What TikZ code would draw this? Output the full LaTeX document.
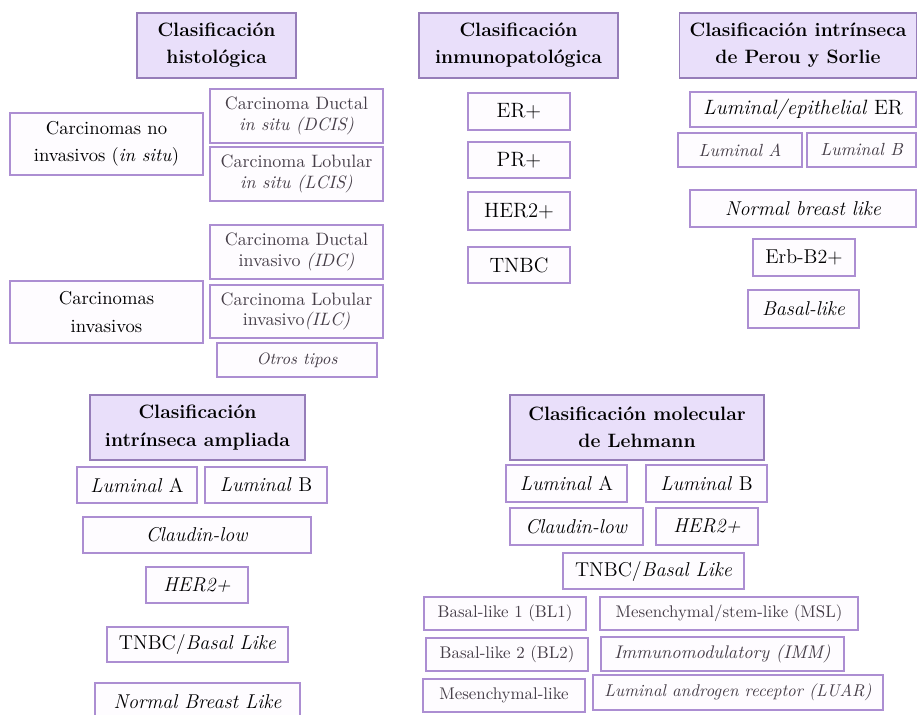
\documentclass[tikz,border=0pt]{standalone}
\usepackage{fontspec}
\usepackage{tikz}
\definecolor{headfill}{RGB}{233,223,250}
\definecolor{headline}{RGB}{150,125,185}
\definecolor{entryline}{RGB}{172,142,210}
\definecolor{entryfill}{RGB}{254,252,255}
\definecolor{softtext}{RGB}{70,62,72}
\tikzstyle{heading}=[draw=headline,fill=headfill,line width=0.9pt,align=center,inner sep=1pt,font=\fontsize{11}{15.5}\selectfont\bfseries]
\tikzstyle{entry}=[draw=entryline,fill=entryfill,line width=0.8pt,align=center,inner sep=1pt,font=\fontsize{11.4}{15}\selectfont]
\tikzstyle{subentry}=[entry,text=softtext,font=\fontsize{9.6}{11.4}\selectfont]
\tikzstyle{carcinoma}=[subentry,font=\fontsize{10.2}{11.6}\selectfont]
\tikzset{sz/.style 2 args={minimum width=#1*0.02cm,minimum height=#2*0.02cm}}

\begin{document}
\begin{tikzpicture}[x=0.02cm,y=-0.02cm]
    \clip (0,0) rectangle (918,715);
    % headings
    \node[heading,sz={159}{65}] (histo) at (216.5,45.5) {Clasificación\\histológica};
    \node[heading,sz={199}{65}] (inmuno) at (518.5,45.5) {Clasificación\\inmunopatológica};
    \node[heading,sz={237}{65}] (perou) at (798,45.5) {Clasificación intrínseca\\de Perou y Sorlie};
    \node[heading,sz={215}{65}] (ampliada) at (197.5,427.5) {Clasificación\\intrínseca ampliada};
    \node[heading,sz={254}{65}] (lehmann) at (637,427.5) {Clasificación molecular\\de Lehmann};

    % histologica
    \node[entry,sz={193}{62},font=\fontsize{10.6}{15.5}\selectfont] (noinv) at (106.5,144) {Carcinomas no\\invasivos (\textit{in situ})};
    \node[entry,sz={193}{62},font=\fontsize{10.6}{15.5}\selectfont] (inv) at (106.5,312) {Carcinomas\\invasivos};
    \node[carcinoma,sz={173}{54}] (dcis) at (296.5,116) {Carcinoma Ductal\\\textit{in situ (DCIS)}};
    \node[carcinoma,sz={173}{54}] (lcis) at (296.5,174) {Carcinoma Lobular\\\textit{in situ (LCIS)}};
    \node[carcinoma,sz={173}{54}] (idc) at (296.5,252) {Carcinoma Ductal\\invasivo \textit{(IDC)}};
    \node[carcinoma,sz={173}{53}] (ilc) at (296.5,311.5) {Carcinoma Lobular\\invasivo\textit{(ILC)}};
    \node[subentry,sz={160}{34},font=\fontsize{9.4}{11}\selectfont\itshape] (otros) at (297,360) {Otros tipos};

    % inmunopatologica
    \foreach \y/\h/\name/\txt in {111.5/37/er/ER+, 160/36/pr/PR+, 211/38/her/HER2+, 265/36/tnbc/TNBC}
        \node[entry,sz={102}{\h},font=\fontsize{11.8}{14}\selectfont] (\name) at (519,\y) {\txt};

    % Perou y Sorlie
    \node[entry,sz={226}{35},font=\fontsize{11.8}{14}\selectfont] (lumep) at (803,109.5) {\textit{Luminal/epithelial} ER};
    \node[subentry,sz={124}{34},font=\fontsize{10}{12}\selectfont\itshape] (plumA) at (740,150) {Luminal A};
    \node[subentry,sz={109}{34},font=\fontsize{10}{12}\selectfont\itshape] (plumB) at (861.5,150) {Luminal B};
    \node[entry,sz={226}{37}] (pnormal) at (803,208.5) {\textit{Normal breast like}};
    \node[entry,sz={102}{37}] (perb) at (804,257.5) {Erb-B2+};
    \node[entry,sz={111}{38}] (pbasal) at (803.5,309) {\textit{Basal-like}};

    % intrinseca ampliada
    \node[entry,sz={120}{36}] (alumA) at (137,485) {\textit{Luminal} A};
    \node[entry,sz={122}{36}] (alumB) at (266,485) {\textit{Luminal} B};
    \node[entry,sz={228}{36}] (aclaudin) at (197,535) {\textit{Claudin-low}};
    \node[entry,sz={102}{36}] (aher) at (197,585) {\textit{HER2+}};
    \node[entry,sz={181}{35}] (atnbc) at (197.5,644.5) {TNBC/\textit{Basal Like}};
    \node[entry,sz={205}{37}] (anormal) at (197.5,701.5) {\textit{Normal Breast Like}};

    % Lehmann
    \node[entry,sz={121}{37}] (llumA) at (566.5,483.5) {\textit{Luminal} A};
    \node[entry,sz={121}{37}] (llumB) at (706.5,483.5) {\textit{Luminal} B};
    \node[entry,sz={133}{37}] (lclaudin) at (576.5,526.5) {\textit{Claudin-low}};
    \node[entry,sz={102}{37}] (lher) at (707,526.5) {\textit{HER2+}};
    \node[entry,sz={181}{36}] (ltnbc) at (653.5,571) {TNBC/\textit{Basal Like}};
    \node[subentry,sz={162}{33}] (bl1) at (505,613.5) {Basal-like 1 (BL1)};
    \node[subentry,sz={258}{33}] (msl) at (729,613.5) {Mesenchymal/stem-like (MSL)};
    \node[subentry,sz={162}{33}] (bl2) at (507,654.5) {Basal-like 2 (BL2)};
    \node[subentry,sz={243}{34},font=\fontsize{10.4}{12}\selectfont\itshape] (imm) at (722.5,654) {Immunomodulatory (IMM)};
    \node[subentry,sz={162}{33}] (mes) at (504,695.5) {Mesenchymal-like};
    \node[subentry,sz={290}{35},font=\fontsize{9.7}{12}\selectfont\itshape] (luar) at (738,692.5) {Luminal androgen receptor (LUAR)};
\end{tikzpicture}
\end{document}
